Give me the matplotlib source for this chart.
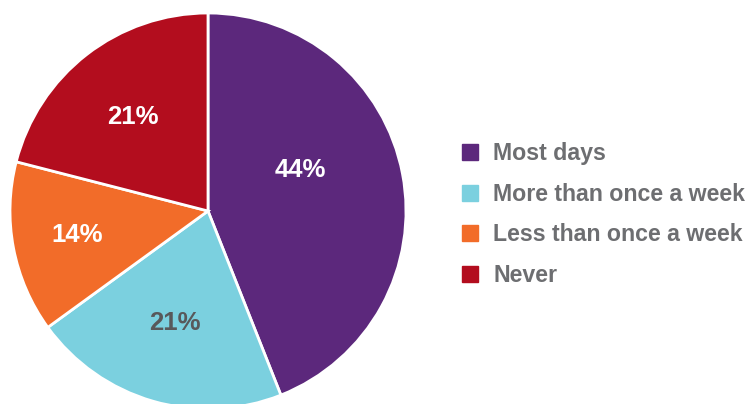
import matplotlib
matplotlib.use("Agg")
import matplotlib.pyplot as plt
from matplotlib.lines import Line2D

categories = ["Most days", "More than once a week", "Less than once a week", "Never"]
values = [44, 21, 14, 21]
colors = ["#5C287C", "#7BD0DF", "#F26C29", "#B30D1E"]
label_colors = ["white", "#58595B", "white", "white"]
label_pos = [(0.465, 0.207), (-0.167, -0.566), (-0.662, -0.121), (-0.379, 0.475)]

plt.rcParams['font.family'] = ['Liberation Sans', 'DejaVu Sans']

fig = plt.figure(figsize=(7.52, 4.04), dpi=100)
W, H = 752, 404
cx, cy, r = 208, 211, 198
ax = fig.add_axes([(cx - r) / W, (H - cy - r) / H, 2 * r / W, 2 * r / H])
ax.pie(values, colors=colors, startangle=90, counterclock=False, radius=1,
       wedgeprops=dict(edgecolor="white", linewidth=2))
ax.set_xlim(-1, 1)
ax.set_ylim(-1, 1)
ax.set_aspect('equal')
ax.axis('off')

for v, (x, y), c in zip(values, label_pos, label_colors):
    ax.text(x, y, f"{v}%", ha='center', va='center', color=c,
            fontsize=18.5, fontweight='bold')

handles = [Line2D([0], [0], marker='s', linestyle='none', markersize=11,
                  markerfacecolor=col, markeredgecolor=col) for col in colors]
leg = fig.legend(handles, categories, loc='upper left',
                 bbox_to_anchor=(461 / W, 1 - 142 / H), frameon=False,
                 prop=dict(size=16.7, weight='bold'), labelcolor="#6D6E71",
                 handlelength=0.8, handletextpad=0.6, labelspacing=0.765,
                 borderaxespad=0, borderpad=0)

fig.savefig("out.png", dpi=100)
